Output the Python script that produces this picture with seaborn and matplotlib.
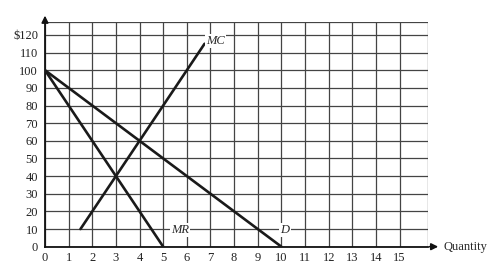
import matplotlib
matplotlib.use("Agg")
import matplotlib.pyplot as plt
import seaborn as sns
import pandas as pd

# Data
d_q = [0, 10]
d_p = [100, 0]
mr_q = [0, 5]
mr_p = [100, 0]
mc_q = [1.5, 6.75]
mc_p = [10, 115]
x_ticks = list(range(0, 16))
y_ticks = list(range(0, 130, 10))
y_labels = ["$120" if v == 120 else str(v) for v in y_ticks]

sns.set_theme(style="white")
plt.rcParams['font.family'] = ['Liberation Serif', 'DejaVu Serif']

fig = plt.figure(figsize=(4.88, 2.78), dpi=100)
ax = fig.add_axes([0.0922, 0.1126, 0.877 - 0.0922, 0.922 - 0.1126])

xmax, ymax = 16.2, 127.5
ax.set_xlim(0, xmax)
ax.set_ylim(0, ymax)

for x in x_ticks + [xmax]:
    ax.axvline(x, color="#444444", lw=0.9, zorder=1)
for y in y_ticks + [ymax]:
    ax.axhline(y, color="#444444", lw=0.9, zorder=1)

df = pd.concat([
    pd.DataFrame({"q": d_q, "p": d_p, "curve": "D"}),
    pd.DataFrame({"q": mr_q, "p": mr_p, "curve": "MR"}),
    pd.DataFrame({"q": mc_q, "p": mc_p, "curve": "MC"}),
])
for name, g in df.groupby("curve"):
    sns.lineplot(data=g, x="q", y="p", ax=ax, color="#1a1a1a", lw=1.9,
                 sort=False, zorder=3, legend=False)

box = dict(facecolor="white", edgecolor="none", pad=0.8)
ax.text(7.2, 116.5, "MC", style="italic", fontsize=9, ha="center", va="center", bbox=box, zorder=4)
ax.text(5.7, 9.5, "MR", style="italic", fontsize=9, ha="center", va="center", bbox=box, zorder=4)
ax.text(10.15, 9.5, "D", style="italic", fontsize=9, ha="center", va="center", bbox=box, zorder=4)

ax.set_xticks(x_ticks)
ax.set_yticks(y_ticks)
ax.set_yticklabels(y_labels)
ax.tick_params(axis="both", labelsize=9, length=3, width=0.8, colors="#222222", pad=2)
ax.tick_params(axis="x", length=0, pad=4)
ax.set_xlabel("")
ax.set_ylabel("")

for s in ["top", "right"]:
    ax.spines[s].set_visible(False)
for s in ["left", "bottom"]:
    ax.spines[s].set_color("#111111")
    ax.spines[s].set_linewidth(1.3)

# axis arrows
ax.annotate("", xy=(xmax + 0.55, 0), xytext=(xmax - 0.05, 0), xycoords="data",
            arrowprops=dict(arrowstyle="-|>", color="#111111", lw=1.2, mutation_scale=10),
            annotation_clip=False)
ax.text(xmax + 0.65, 0, "Quantity", fontsize=9, ha="left", va="center", clip_on=False)
ax.annotate("", xy=(0, ymax + 5), xytext=(0, ymax - 1), xycoords="data",
            arrowprops=dict(arrowstyle="-|>", color="#111111", lw=1.2, mutation_scale=10),
            annotation_clip=False)

fig.savefig("out.png", dpi=100)
